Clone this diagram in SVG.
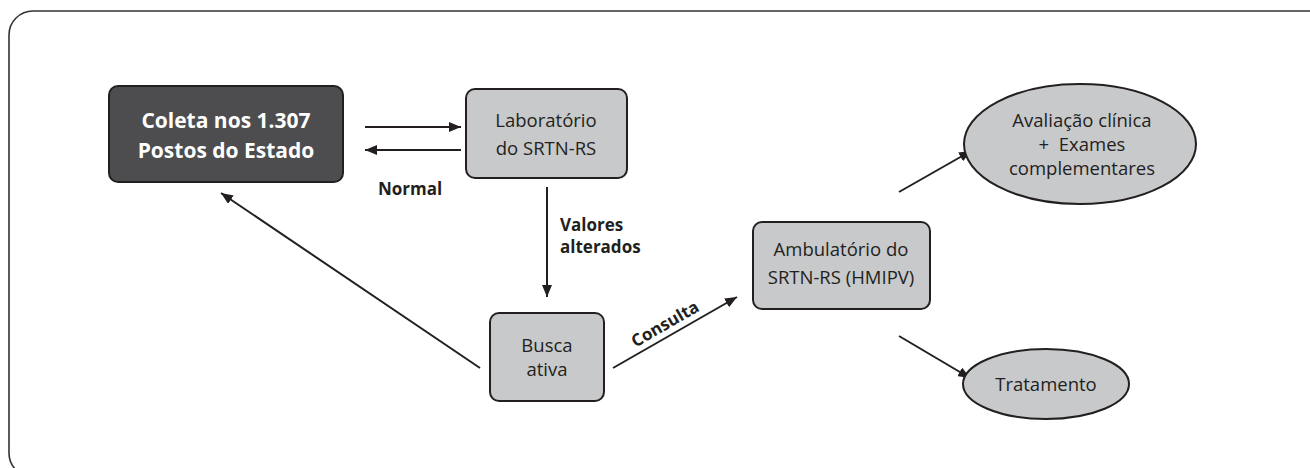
<svg xmlns="http://www.w3.org/2000/svg" width="1310" height="468" viewBox="0 0 1310 468">
<style>
text{font-family:"Open Sans","Noto Sans","Liberation Sans",sans-serif;fill:#231f20;text-anchor:middle}
.box{fill:#c8c9cb;stroke:#231f20;stroke-width:2}
.dark{fill:#4d4d4f;stroke:#231f20;stroke-width:2}
.t{font-size:18.5px}
.w{font-size:21px;font-weight:bold;fill:#ffffff}
.b{font-size:17px;font-weight:bold}
.c{stroke:#231f20;stroke-width:2;fill:none;marker-end:url(#ah)}
</style>
<defs>
<marker id="ah" viewBox="0 0 12 10" refX="12" refY="5" markerWidth="6" markerHeight="5" markerUnits="strokeWidth" orient="auto">
<path d="M0,0 L12,5 L0,10 z" fill="#231f20"/>
</marker>
</defs>
<rect x="9" y="11" width="1330" height="466" rx="24" fill="#ffffff" stroke="#333333" stroke-width="1.6"/>
<g id="connectors">
<line class="c" x1="365" y1="127" x2="461" y2="127"/>
<line class="c" x1="461" y1="150" x2="365" y2="150"/>
<line class="c" x1="547" y1="187" x2="547" y2="297"/>
<line class="c" x1="613" y1="368" x2="737" y2="297"/>
<line class="c" x1="480" y1="368" x2="221" y2="193"/>
<line class="c" x1="899" y1="192" x2="971" y2="151"/>
<line class="c" x1="899" y1="336" x2="970" y2="378"/>
<text class="b" x="410" y="195">Normal</text>
<text class="b" x="560" y="231" style="text-anchor:start">Valores</text>
<text class="b" x="560" y="253" style="text-anchor:start">alterados</text>
<text class="b" transform="translate(668,329) rotate(-30)">Consulta</text>
</g>
<g id="coleta">
<rect class="dark" x="109" y="86" width="234" height="96" rx="9"/>
<text class="w" x="226" y="128">Coleta nos 1.307</text>
<text class="w" x="226" y="158">Postos do Estado</text>
</g>
<g id="laboratorio">
<rect class="box" x="466" y="89" width="161" height="89" rx="9"/>
<text class="t" x="546" y="127">Laboratório</text>
<text class="t" x="546" y="155">do SRTN-RS</text>
</g>
<g id="busca">
<rect class="box" x="490" y="313" width="114" height="88" rx="9"/>
<text class="t" x="547" y="352">Busca</text>
<text class="t" x="547" y="376">ativa</text>
</g>
<g id="ambulatorio">
<rect class="box" x="753" y="222" width="177" height="87" rx="9"/>
<text class="t" x="841" y="256">Ambulatório do</text>
<text class="t" x="841" y="284">SRTN-RS (HMIPV)</text>
</g>
<g id="avaliacao">
<ellipse class="box" cx="1080" cy="144" rx="116" ry="60"/>
<text class="t" x="1082" y="127">Avaliação clínica</text>
<text class="t" x="1082" y="151">+ &#160;Exames</text>
<text class="t" x="1082" y="175">complementares</text>
</g>
<g id="tratamento">
<ellipse class="box" cx="1046" cy="384" rx="83" ry="35"/>
<text class="t" x="1046" y="391">Tratamento</text>
</g>
</svg>
